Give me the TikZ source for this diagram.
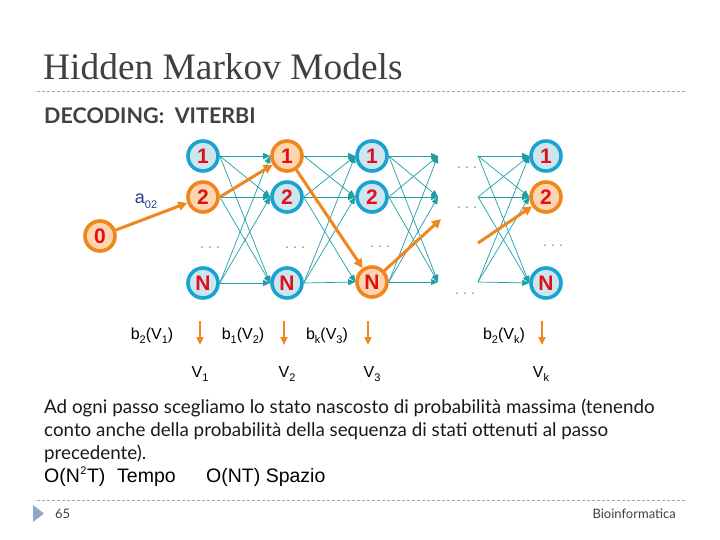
\documentclass[tikz,border=0pt]{standalone}
\usepackage{fontspec}
\setmainfont{Liberation Sans}
\newfontfamily\titlefont{Liberation Serif}
\newfontfamily\gill{Lato}
\usetikzlibrary{arrows.meta}
\definecolor{stblue}{HTML}{1AA3D0}
\definecolor{stfill}{HTML}{CFE5EE}
\definecolor{orng}{HTML}{F0861E}
\definecolor{ofill}{HTML}{FDD5AE}
\definecolor{numred}{HTML}{E0101A}
\definecolor{tealln}{HTML}{1E9FA8}
\definecolor{titlegray}{HTML}{404040}
\definecolor{navy}{HTML}{2E3A87}
\definecolor{footblue}{HTML}{8FA9C3}
\newcommand\lsub[1]{\raisebox{-0.5ex}{\fontsize{11}{11}\selectfont #1}}
\newcommand\mydots{\makebox[20pt]{.\hfill.\hfill.}}
\begin{document}
\begin{tikzpicture}[x=1pt,y=-1pt,
  st/.style={circle, draw=stblue, fill=stfill, line width=3.6pt, minimum size=30pt, inner sep=0pt, text=numred, font=\fontsize{21}{21}\selectfont\bfseries},
  ost/.style={st, draw=orng, fill=ofill},
  tl/.style={draw=tealln, line width=0.7pt, -{Triangle[length=7pt,width=6pt]}},
  ol/.style={draw=orng, line width=3pt, -{Triangle[length=9pt,width=9pt]}},
  dots/.style={text=gray, font=\fontsize{14}{14}\selectfont, inner sep=0pt},
  lbl/.style={font=\fontsize{16}{16}\selectfont, inner sep=0pt, anchor=base},
  body/.style={font=\gill\fontsize{18.8}{18.8}\selectfont, inner sep=0pt, anchor=base west, text=black!90},
  dline/.style={draw=gray!70, line width=0.8pt, dash pattern=on 3pt off 2pt}]
\useasboundingbox (0,0) rectangle (720,540);
\fill[white] (0,0) rectangle (720,540);
% title
\node[anchor=base west, inner sep=0pt, text=titlegray, font=\titlefont\fontsize{37.4}{37.4}\selectfont] (title) at (43,80) {Hidden Markov Models};
\coordinate (tl1) at (37,91); \coordinate (tl2) at (686,91);
\draw[dline] (tl1) -- (tl2);
\node[anchor=base west, inner sep=0pt, text=titlegray, font=\gill\bfseries\fontsize{21.5}{21.5}\selectfont] (sub) at (44,124) {DECODING:\ \ VITERBI};
% states
\node[ost] (z) at (100,236) {0};
\node[st] (a1) at (203,156) {1};
\node[ost] (a2) at (203,197) {2};
\node[st] (aN) at (203,283) {N};
\node[ost] (b1) at (287,156) {1};
\node[st] (b2) at (287,197) {2};
\node[st] (bN) at (287,283) {N};
\node[st] (c1) at (372,156) {1};
\node[st] (c2) at (372,197) {2};
\node[ost] (cN) at (372,282) {N};
\node[st] (d1) at (546,156) {1};
\node[ost] (d2) at (546,197) {2};
\node[st] (dN) at (546,283) {N};
\coordinate (e1) at (438,156); \coordinate (e2) at (438,197); \coordinate (eN) at (438,282);
\coordinate (eo) at (441,219);
\coordinate (f1) at (478,156); \coordinate (f2) at (478,197); \coordinate (fN) at (478,282);
\coordinate (fo) at (478,243);
% teal transitions
\foreach \s/\t in {a1/b1,a1/b2,a1/bN,a2/b2,a2/bN,aN/b1,aN/b2,aN/bN,
                   b1/c1,b1/c2,b2/c1,b2/c2,b2/cN,bN/c1,bN/c2,bN/cN}
  \draw[tl] (\s.east) -- (\t.west);
\foreach \s in {c1,c2,cN}
  \foreach \t in {e1,e2,eN}
    \draw[tl] (\s.east) -- (\t);
\foreach \s in {f1,f2,fN}
  \foreach \t in {d1,d2,dN}
    \draw[tl] (\s) -- (\t.west);
% orange path
\draw[ol] (z) -- (a2);
\draw[ol] (a2.east) -- (b1);
\draw[ol] (b1) -- (cN);
\draw[ol] (cN) -- (eo);
\draw[ol] (fo) -- (d2);
% dots
\node[dots] (p1) at (210,248) {\mydots};
\node[dots] (p2) at (295,248) {\mydots};
\node[dots] (p3) at (380,247) {\mydots};
\node[dots] (p4) at (553,246) {\mydots};
\node[dots] (p5) at (467,168) {\mydots};
\node[dots] (p6) at (467,208) {\mydots};
\node[dots] (p7) at (465,294) {\mydots};
% a02
\node[font=\fontsize{18}{18}\selectfont, text=navy, inner sep=0pt] (a02) at (146,201) {a\lsub{02}};
% emission labels
\node[lbl] (l1) at (152,339) {b\lsub{2}(V\lsub{1})};
\node[lbl] (l2) at (243,339) {b\lsub{1}(V\lsub{2})};
\node[lbl] (l3) at (327,339) {b\lsub{k}(V\lsub{3})};
\node[lbl] (l4) at (504,339) {b\lsub{2}(V\lsub{k})};
\node[lbl] (v1) at (200,377) {V\lsub{1}};
\node[lbl] (v2) at (287,377) {V\lsub{2}};
\node[lbl] (v3) at (372,377) {V\lsub{3}};
\node[lbl] (v4) at (541,377) {V\lsub{k}};
\foreach \x/\n in {200/1,284/2,368/3,542/4}{
  \coordinate (s\n) at (\x,321); \coordinate (t\n) at (\x,345);
  \draw[draw=orng, line width=2.5pt, -{Triangle[length=8pt,width=7pt]}] (s\n) -- (t\n);
}
% body text
\node[body] (t1) at (44,413) {Ad ogni passo scegliamo lo stato nascosto di probabilità massima (tenendo};
\node[body] (t2) at (44,436) {conto anche della probabilità della sequenza di stati ottenuti al passo};
\node[body] (t3) at (44,459) {precedente).};
\node[anchor=base west, inner sep=0pt, font=\fontsize{19.5}{19.5}\selectfont] (t4a) at (44,482) {O(N\kern0.5pt\raisebox{0.7ex}{\fontsize{11}{11}\selectfont 2}\kern0.5pt T)};
\node[anchor=base west, inner sep=0pt, font=\fontsize{19.5}{19.5}\selectfont] (t4b) at (117,482) {Tempo};
\node[anchor=base west, inner sep=0pt, font=\fontsize{19.5}{19.5}\selectfont] (t4c) at (206,482) {O(NT) Spazio};
% footer
\coordinate (fl1) at (37,500); \coordinate (fl2) at (686,500);
\draw[dline] (fl1) -- (fl2);
\fill[footblue] (33,505) -- (44,513.5) -- (33,522) -- cycle;
\node[anchor=base west, inner sep=0pt, font=\gill\fontsize{13}{13}\selectfont, text=titlegray] (pg) at (55,518) {65};
\node[anchor=base east, inner sep=0pt, font=\gill\fontsize{13}{13}\selectfont, text=titlegray] (bi) at (676,518) {Bioinformatica};
\end{tikzpicture}
\end{document}
